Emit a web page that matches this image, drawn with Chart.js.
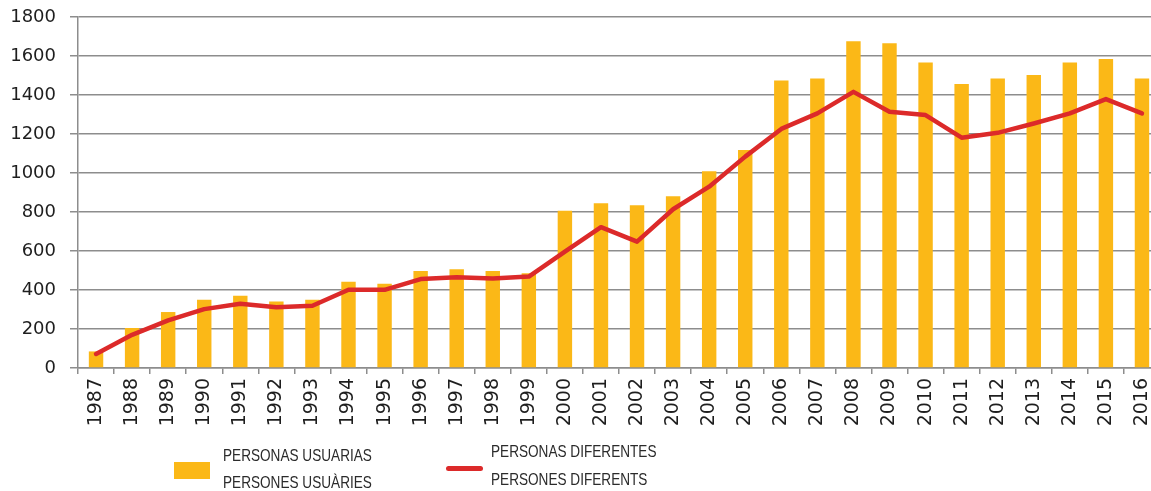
<!DOCTYPE html>
<html>
<head>
<meta charset="utf-8">
<script src="https://cdn.jsdelivr.net/npm/chart.js@4"></script>
<style>
  html, body { margin: 0; padding: 0; background: #fff; overflow: hidden; }
  #wrap { position: relative; width: 1151px; height: 491px; overflow: hidden; }
  #chart { position: absolute; left: 0; top: 0; }
  .lg-text { position: absolute; font-family: "Liberation Sans", sans-serif; font-size: 17px; color: #2b2b2b; line-height: 20px; white-space: nowrap; transform: scaleX(0.8); transform-origin: left center; }
  .lg-box { position: absolute; background: #FBB817; }
  .lg-line { position: absolute; background: #DC2A2A; border-radius: 3px; }
</style>
</head>
<body>
<div id="wrap">
  <canvas id="chart" width="1160" height="491"></canvas>
  <div class="lg-box" style="left:174px; top:462px; width:36px; height:17px;"></div>
  <div class="lg-text" style="left:223px; top:446px;">PERSONAS USUARIAS</div>
  <div class="lg-text" style="left:223px; top:473px;">PERSONES USUÀRIES</div>
  <div class="lg-line" style="left:446px; top:466px; width:37px; height:5px;"></div>
  <div class="lg-text" style="left:491px; top:442px;">PERSONAS DIFERENTES</div>
  <div class="lg-text" style="left:491px; top:470px;">PERSONES DIFERENTS</div>
</div>
<script>
// Years shown on the x axis
const years = ['1987', '1988', '1989', '1990', '1991', '1992', '1993', '1994', '1995', '1996',
               '1997', '1998', '1999', '2000', '2001', '2002', '2003', '2004', '2005', '2006',
               '2007', '2008', '2009', '2010', '2011', '2012', '2013', '2014', '2015', '2016'];

// Bars: personas usuarias / persones usuàries
const usuarias = [85, 205, 287, 350, 370, 341, 350, 442, 432, 497,
                  507, 497, 486, 807, 845, 835, 881, 1009, 1118, 1475,
                  1485, 1676, 1666, 1567, 1457, 1485, 1502, 1567, 1584, 1485];

// Line: personas diferentes / persones diferents
const diferentes = [72, 170, 244, 302, 329, 312, 319, 401, 401, 456,
                    466, 459, 469, 597, 722, 648, 814, 930, 1084, 1226,
                    1306, 1416, 1314, 1297, 1181, 1206, 1254, 1306, 1379, 1306];

const yTicks = [0, 200, 400, 600, 800, 1000, 1200, 1400, 1600, 1800];

const gridColor = '#8d8d8d';

const ctx = document.getElementById('chart').getContext('2d');
const chart = new Chart(ctx, {
    type: 'bar',
    data: {
        labels: years,
        datasets: [{
            type: 'line',
            label: 'PERSONAS DIFERENTES',
            data: diferentes,
            borderColor: '#DC2A2A',
            borderWidth: 4.5,
            pointRadius: 0,
            tension: 0,
            borderCapStyle: 'round',
            borderJoinStyle: 'round',
            order: 0
        }, {
            type: 'bar',
            label: 'PERSONAS USUARIAS',
            data: usuarias,
            backgroundColor: '#FBB817',
            barPercentage: 0.4,
            categoryPercentage: 1,
            order: 1
        }]
    },
    options: {
        responsive: false,
        animation: false,
        layout: { padding: { top: 17, right: 0, bottom: 61, left: 0 } },
        plugins: {
            legend: { display: false },
            tooltip: { enabled: false }
        },
        scales: {
            x: {
                grid: {
                    offset: true,
                    drawOnChartArea: false,
                    drawTicks: true,
                    tickLength: 6,
                    color: gridColor,
                    lineWidth: 1.5
                },
                border: { color: gridColor, width: 1.5 },
                ticks: {
                    minRotation: 90,
                    maxRotation: 90,
                    padding: 4,
                    color: '#1e1e1e',
                    font: { family: '"DejaVu Sans"', size: 19 }
                },
                afterFit: (scale) => {
                    scale.height = 62;
                    scale.paddingLeft = 0;
                    scale.paddingRight = 0;
                }
            },
            y: {
                min: 0,
                max: 1800,
                afterBuildTicks: (scale) => { scale.ticks = yTicks.map(v => ({ value: v })); },
                grid: {
                    color: gridColor,
                    lineWidth: 1.5,
                    tickLength: 8
                },
                border: { color: gridColor, width: 1.5 },
                ticks: {
                    padding: 14,
                    color: '#1e1e1e',
                    font: { family: '"DejaVu Sans"', size: 18 },
                    callback: (v) => String(v)
                },
                afterFit: (scale) => {
                    scale.width = 78;
                    scale.paddingTop = 0;
                    scale.paddingBottom = 0;
                }
            }
        }
    }
});
</script>
</body>
</html>
